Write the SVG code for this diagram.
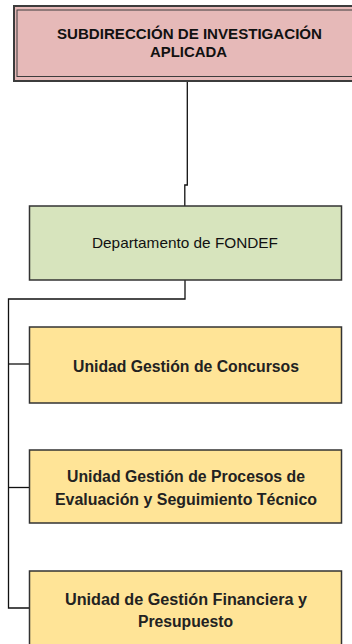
<svg xmlns="http://www.w3.org/2000/svg" width="352" height="644" viewBox="0 0 352 644">
<style>
.box{stroke:#333;stroke-width:1.5}
.conn{fill:none;stroke:#111;stroke-width:1.3}
.t1{font-family:"Liberation Sans",Arial,sans-serif;font-weight:bold;font-size:15px;fill:#111;text-anchor:middle}
.t2{font-family:"Liberation Sans",Arial,sans-serif;font-size:15px;fill:#111;text-anchor:middle}
.t3{font-family:"Liberation Sans",Arial,sans-serif;font-weight:bold;font-size:16px;fill:#222;text-anchor:middle}
.yel{fill:#FFE497}
</style>
<rect width="352" height="644" fill="#fff"/>
<g id="connectors">
<path class="conn" d="M187.3 81 V185 H184.8 V206"/>
<path class="conn" d="M185 280 V299 H8.5 V608 H29"/>
<path class="conn" d="M8.5 364 H29"/>
<path class="conn" d="M8.5 487.5 H29"/>
</g>
<g id="subdireccion">
<rect x="14" y="6" width="350" height="75" fill="#E6B9B8" stroke="#3c3c3c" stroke-width="2"/>
<rect x="17" y="10" width="345" height="66.5" fill="none" stroke="#3c3c3c" stroke-width="1"/>
<text class="t1" x="189.5" y="39" textLength="265" lengthAdjust="spacingAndGlyphs">SUBDIRECCIÓN DE INVESTIGACIÓN</text>
<text class="t1" x="188.5" y="57" textLength="77" lengthAdjust="spacingAndGlyphs">APLICADA</text>
</g>
<g id="fondef">
<rect class="box" x="29.5" y="206" width="312" height="74" fill="#D7E4BD"/>
<text class="t2" x="185" y="248" textLength="186" lengthAdjust="spacingAndGlyphs">Departamento de FONDEF</text>
</g>
<g id="concursos">
<rect class="box yel" x="29.5" y="327" width="312" height="76"/>
<text class="t3" x="186" y="371.5" textLength="226" lengthAdjust="spacingAndGlyphs">Unidad Gestión de Concursos</text>
</g>
<g id="procesos">
<rect class="box yel" x="29.5" y="450" width="312" height="73"/>
<text class="t3" x="186" y="481.5" textLength="238" lengthAdjust="spacingAndGlyphs">Unidad Gestión de Procesos de</text>
<text class="t3" x="186" y="504.5" textLength="262" lengthAdjust="spacingAndGlyphs">Evaluación y Seguimiento Técnico</text>
</g>
<g id="financiera">
<rect class="box yel" x="29.5" y="571" width="312" height="80"/>
<text class="t3" x="186" y="605" textLength="242" lengthAdjust="spacingAndGlyphs">Unidad de Gestión Financiera y</text>
<text class="t3" x="185.5" y="627" textLength="95" lengthAdjust="spacingAndGlyphs">Presupuesto</text>
</g>
</svg>
